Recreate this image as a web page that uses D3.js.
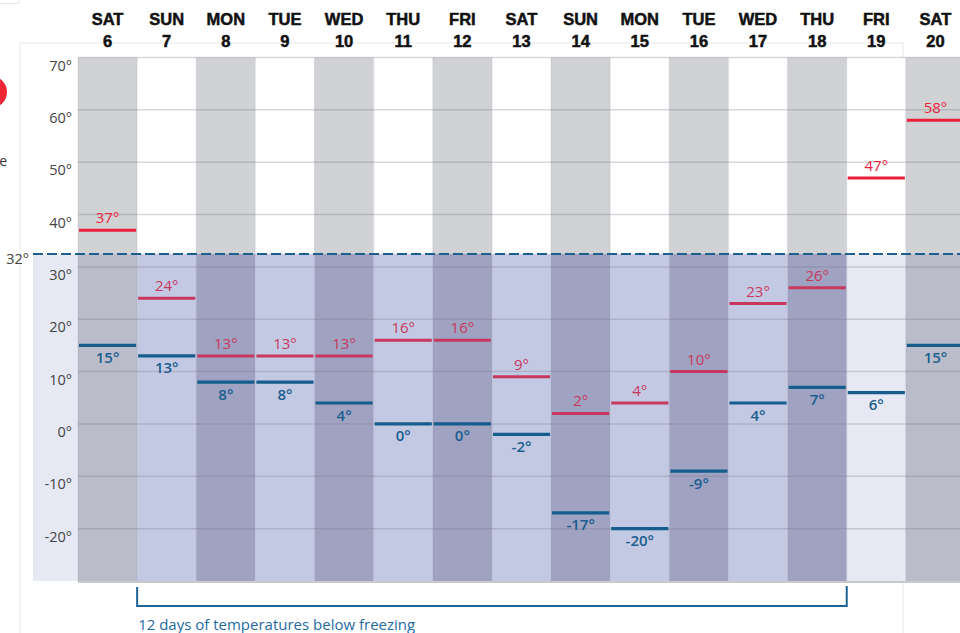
<!DOCTYPE html>
<html><head><meta charset="utf-8">
<script src="https://cdn.jsdelivr.net/npm/d3@7"></script>
<style>html,body{margin:0;padding:0;background:#fff;overflow:hidden}</style>
</head><body><svg id="c" width="960" height="633"></svg>
<script>
const dayNames = ["SAT","SUN","MON","TUE","WED","THU","FRI","SAT","SUN","MON","TUE","WED","THU","FRI","SAT"];
const dayNums  = [6,7,8,9,10,11,12,13,14,15,16,17,18,19,20];
const highs    = [37,24,13,13,13,16,16,9,2,4,10,23,26,47,58];
const lows     = [15,13,8,8,4,0,0,-2,-17,-20,-9,4,7,6,15];
const yTicks   = [70,60,50,40,30,20,10,0,-10,-20];
const freezing = 32;
const noteText = "12 days of temperatures below freezing";

const svg = d3.select("#c");
const days = dayNums.map((d,i)=>({i, name:dayNames[i], num:d, hi:highs[i], lo:lows[i]}));
const x = d3.scaleBand().domain(days.map(d=>d.i)).range([78, 965]).padding(0);
const y = d3.scaleLinear().domain([-30, 70]).range([581, 57.5]);
const yF = y(freezing) - 2.5;
const cw = x.bandwidth();

// faint frame
svg.append("rect").attr("x",20).attr("y",43).attr("width",883).attr("height",700)
  .attr("fill","none").attr("stroke","#e8e8e8").attr("stroke-width",1);
svg.append("path").attr("d","M19,0V3.5H0").attr("fill","none").attr("stroke","#e8e8e8");

// clipped legend remnants
svg.append("circle").attr("cx",-9).attr("cy",92).attr("r",16).attr("fill","#ee2636");
svg.append("text").attr("x",7).attr("y",166).attr("text-anchor","end")
  .attr("font-family","Open Sans").attr("font-size",14).attr("fill","#333").text("e");

// headers
const hdr = svg.append("g").attr("font-family","Liberation Sans, Arial, sans-serif")
  .attr("font-weight",700).attr("font-size",16.5).attr("fill","#111")
  .attr("stroke","#111").attr("stroke-width",0.5).attr("text-anchor","middle");
hdr.selectAll(".dn").data(days).join("text").attr("x",d=>x(d.i)+cw/2).attr("y",25).text(d=>d.name);
hdr.selectAll(".dd").data(days).join("text").attr("x",d=>x(d.i)+cw/2).attr("y",47).text(d=>d.num);

// in-stretch = days where high below freezing
const inStretch = d => d.hi < freezing;

// left margin light region below freezing
svg.append("rect").attr("x",33).attr("y",yF).attr("width",78-33).attr("height",y(-30)-yF).attr("fill","#e6e9f3");

// columns upper
svg.selectAll(".cu").data(days).join("rect")
  .attr("x",d=>x(d.i)).attr("y",y(70)).attr("width",cw).attr("height",yF-y(70))
  .attr("fill",d=>d.i%2===0?"#d1d2d4":"#ffffff");
// columns lower
svg.selectAll(".cl").data(days).join("rect")
  .attr("x",d=>x(d.i)).attr("y",yF).attr("width",cw).attr("height",y(-30)-yF)
  .attr("fill",d=>{
    const even = d.i%2===0;
    if (inStretch(d)) return even?"#a0a2c1":"#c3c9e3";
    return even?"#bbbcc9":"#e6e9f3";
  });
// column borders
svg.selectAll(".cb").data(days).join("line")
  .attr("x1",d=>x(d.i)).attr("x2",d=>x(d.i)).attr("y1",y(70)).attr("y2",y(-30))
  .attr("stroke","#8a8aa8").attr("stroke-opacity",0.18).attr("stroke-width",1.2);

// gridlines
svg.selectAll(".gl").data(yTicks).join("line")
  .attr("x1",78).attr("x2",960).attr("y1",d=>y(d)).attr("y2",d=>y(d))
  .attr("stroke","#7a7a8a").attr("stroke-opacity",0.3).attr("stroke-width",1.5);
svg.append("line").attr("x1",78).attr("x2",960).attr("y1",y(-30)+1).attr("y2",y(-30)+1)
  .attr("stroke","#c9c9cc").attr("stroke-width",2);

// tick labels
svg.selectAll(".tl").data(yTicks).join("text")
  .attr("x",72).attr("y",d=>y(d)+13).attr("text-anchor","end")
  .attr("font-family","Open Sans").attr("font-size",14.5).attr("fill","#444").text(d=>d+"°");
svg.append("text").attr("x",29).attr("y",yF+10.5).attr("text-anchor","end")
  .attr("font-family","Open Sans").attr("font-size",14.5).attr("fill","#444").text(freezing+"°");

// freezing dashed line
svg.append("line").attr("x1",33).attr("x2",960).attr("y1",yF).attr("y2",yF)
  .attr("stroke","#1f5f8f").attr("stroke-width",2).attr("stroke-dasharray","10,4");

// high lines & labels
const hiCol = d => d.hi >= freezing ? "#ec1f3c" : "#c8385e";
svg.selectAll(".hl").data(days).join("line")
  .attr("x1",d=>x(d.i)+1).attr("x2",d=>x(d.i)+cw-1).attr("y1",d=>y(d.hi)).attr("y2",d=>y(d.hi))
  .attr("stroke",hiCol).attr("stroke-width",3);
svg.selectAll(".ht").data(days).join("text")
  .attr("x",d=>x(d.i)+cw/2).attr("y",d=>y(d.hi)-7).attr("text-anchor","middle")
  .attr("font-family","Open Sans").attr("font-size",15).attr("fill",hiCol).text(d=>d.hi+"°");

// low lines & labels
svg.selectAll(".ll").data(days).join("line")
  .attr("x1",d=>x(d.i)+1).attr("x2",d=>x(d.i)+cw-1).attr("y1",d=>y(d.lo)).attr("y2",d=>y(d.lo))
  .attr("stroke","#155d8c").attr("stroke-width",3.2);
svg.selectAll(".lt").data(days).join("text")
  .attr("x",d=>x(d.i)+cw/2).attr("y",d=>y(d.lo)+17.5).attr("text-anchor","middle")
  .attr("font-family","Open Sans").attr("font-weight",600).attr("font-size",15)
  .attr("fill","#1b5e8e").text(d=>d.lo+"°");

// bracket for freezing stretch
const stretch = days.filter(inStretch);
const bx0 = x(stretch[0].i), bx1 = x(stretch[stretch.length-1].i)+cw;
svg.append("path").attr("d",`M${bx0},587V606H${bx1}V586`).attr("fill","none")
  .attr("stroke","#1f6496").attr("stroke-width",2);
svg.append("text").attr("x",bx0+1).attr("y",630).attr("font-family","Open Sans").attr("font-size",15)
  .attr("fill","#1f6aa0").text(noteText);
</script></body></html>
